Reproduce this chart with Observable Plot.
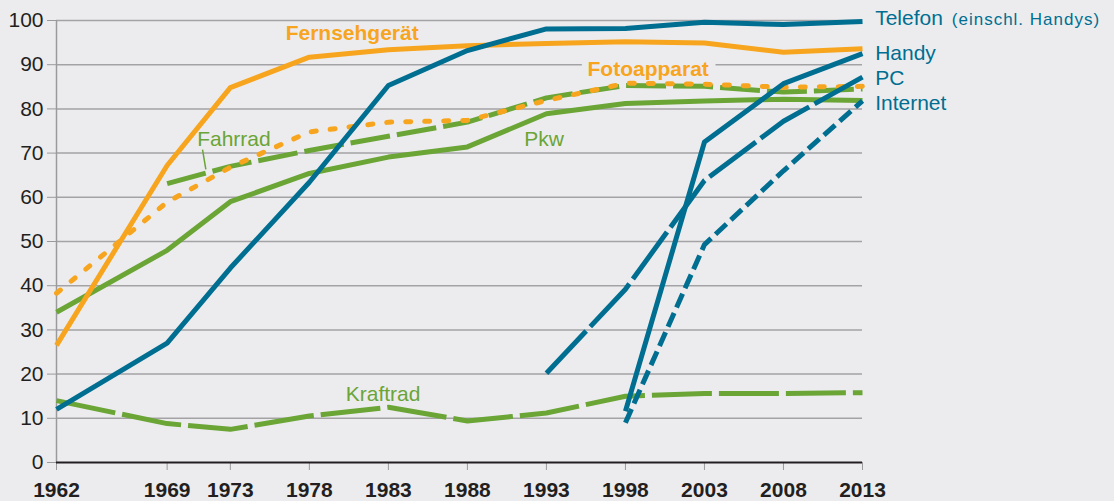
<!DOCTYPE html>
<html>
<head>
<meta charset="utf-8">
<script src="https://cdn.jsdelivr.net/npm/d3@7"></script>
<script src="https://cdn.jsdelivr.net/npm/@observablehq/plot@0.6"></script>
<style>
  html, body { margin: 0; padding: 0; background: #ececef; }
  #chart svg { display: block; }
</style>
</head>
<body>
<div id="chart"></div>
<script>
// ---- data ----
const years = [1962, 1969, 1973, 1978, 1983, 1988, 1993, 1998, 2003, 2008, 2013];
const yTicks = [0, 10, 20, 30, 40, 50, 60, 70, 80, 90, 100];

const kraftrad    = [14, 8.8, 7.5, 10.5, 12.5, 9.4, 11.2, 15, 15.6, 15.6, 15.8];
const pkw         = [34, 48, 59, 65.4, 69.1, 71.4, 78.9, 81.2, 81.8, 82.2, 81.9];
const fahrrad     = [null, 63.1, 67, 70.6, 73.8, 77, 82.5, 85.3, 85.1, 83.8, 84.5];
const fernseh     = [26.5, 67.2, 84.8, 91.7, 93.4, 94.3, 94.8, 95.2, 94.9, 92.8, 93.6];
const foto        = [38.3, 58.9, 66.8, 74.8, 77, 77.4, 81.9, 85.8, 85.6, 84.9, 85.1];
const telefon     = [12, 27, 44, 63.4, 85.3, 93.2, 98.1, 98.2, 99.6, 99.1, 99.8];
const handy       = [null, null, null, null, null, null, null, 11.6, 72.5, 85.7, 92.5];
const pc          = [null, null, null, null, null, null, 20.2, 39.2, 63.8, 77.2, 87.2];
const internet    = [null, null, null, null, null, null, null, 9, 49.3, 66, 81.8];

const labelTexts  = ["Fernsehgerät", "Fotoapparat", "Fahrrad", "Pkw", "Kraftrad", "Telefon", "Handy", "PC", "Internet"];
const labelX      = [1976.5, 1995.6, 1970.9, 1991.6, 1980.3, 2013.8, 2013.8, 2013.8, 2013.8];
const labelY      = [97.0, 88.9, 73.1, 73.1, 15.4, 100.5, 92.7, 86.9, 81.3];
const parenText   = ["(einschl. Handys)"];
const parenX      = [2018.65];
const parenY      = [100.5];
const leader      = [{x1: 1971.24, y1: 70.8, x2: 1971.45, y2: 66.3}];

// ---- styles ----
const BLUE = "#006e91", ORANGE = "#f7a51e", GREEN = "#6aa536", BG = "#ececef";
const FONT = "'Liberation Sans', Arial, Helvetica, sans-serif";

const toPoints = vals => years.map((y, i) => ({year: y, v: vals[i]})).filter(d => d.v != null);

const series = [
  {vals: kraftrad, color: GREEN,  dash: "60,7", cap: "butt"},
  {vals: pkw,      color: GREEN,  dash: null,   cap: "butt"},
  {vals: fahrrad,  color: GREEN,  dash: "40,7", cap: "butt"},
  {vals: fernseh,  color: ORANGE, dash: null,   cap: "butt"},
  {vals: foto,     color: ORANGE, dash: "5,14", cap: "round"},
  {vals: internet, color: BLUE,   dash: "15,6", cap: "butt"},
  {vals: pc,       color: BLUE,   dash: "58,6", cap: "butt"},
  {vals: handy,    color: BLUE,   dash: null,   cap: "butt"},
  {vals: telefon,  color: BLUE,   dash: null,   cap: "butt"}
];

const labelColors = [ORANGE, ORANGE, GREEN, GREEN, GREEN, BLUE, BLUE, BLUE, BLUE];
const labelWeights = ["bold", "bold", "normal", "normal", "normal", "normal", "normal", "normal", "normal"];
const labels = labelTexts.map((t, i) => ({t, x: labelX[i], y: labelY[i], c: labelColors[i], w: labelWeights[i]}));
const parens = parenText.map((t, i) => ({t, x: parenX[i], y: parenY[i]}));

const lineMarks = series.map(s => Plot.line(toPoints(s.vals), {
  x: "year", y: "v", stroke: s.color, strokeWidth: 5,
  strokeDasharray: s.dash || undefined, strokeLinecap: s.cap, strokeLinejoin: "round"
}));

const chart = Plot.plot({
  width: 1114,
  height: 501,
  marginLeft: 56,
  marginRight: 252,
  marginTop: 20,
  marginBottom: 39,
  style: {background: BG, fontFamily: FONT, overflow: "visible"},
  x: {domain: [1962, 2013], axis: null},
  y: {domain: [0, 100], axis: null},
  marks: [
    Plot.gridY(yTicks.filter(d => d > 0), {stroke: "#a3a3a6", strokeOpacity: 1, strokeWidth: 1.5}),
    Plot.ruleX([1962], {y1: 0, y2: 100, stroke: "#9a9a9d", strokeWidth: 1.5}),
    Plot.axisY({ticks: yTicks, tickSize: 9, tickPadding: 4, stroke: "#9a9a9d", fill: "#231f20",
      fontSize: 21, tickFormat: d => String(d)}),
    Plot.axisX({ticks: years, tickSize: 8, tickPadding: 12, stroke: "#9a9a9d", fill: "#231f20",
      fontSize: 21, fontWeight: "bold", tickFormat: d => String(d)}),
    // halo behind the Fotoapparat label (hides the grid line)
    Plot.text(labels.filter(d => d.t === "Fotoapparat"), {
      x: "x", y: "y", text: "t", textAnchor: "start", lineAnchor: "middle",
      fontSize: 21, fontWeight: "bold", fill: BG, stroke: BG, strokeWidth: 14
    }),
    ...lineMarks,
    Plot.ruleY([0], {stroke: "#231f20", strokeWidth: 2}),
    Plot.link(leader, {x1: "x1", y1: "y1", x2: "x2", y2: "y2", stroke: GREEN, strokeWidth: 1.5}),
    Plot.text(labels, {
      x: "x", y: "y", text: "t", textAnchor: "start", lineAnchor: "middle",
      fontSize: 21, fill: "c"
    }),
    Plot.text(parens, {
      x: "x", y: "y", text: "t", textAnchor: "start", lineAnchor: "middle",
      fontSize: 17, fill: BLUE, dy: 1.3, className: "paren"
    })
  ]
});

// apply per-label weights after render
d3.select(chart).selectAll("text").each(function() {
  const t = d3.select(this).text();
  if (t === "Fernsehgerät" || t === "Fotoapparat") d3.select(this).attr("font-weight", "bold");
});
d3.select(chart).selectAll(".paren text").attr("letter-spacing", "1");

document.getElementById("chart").appendChild(chart);
</script>
</body>
</html>
